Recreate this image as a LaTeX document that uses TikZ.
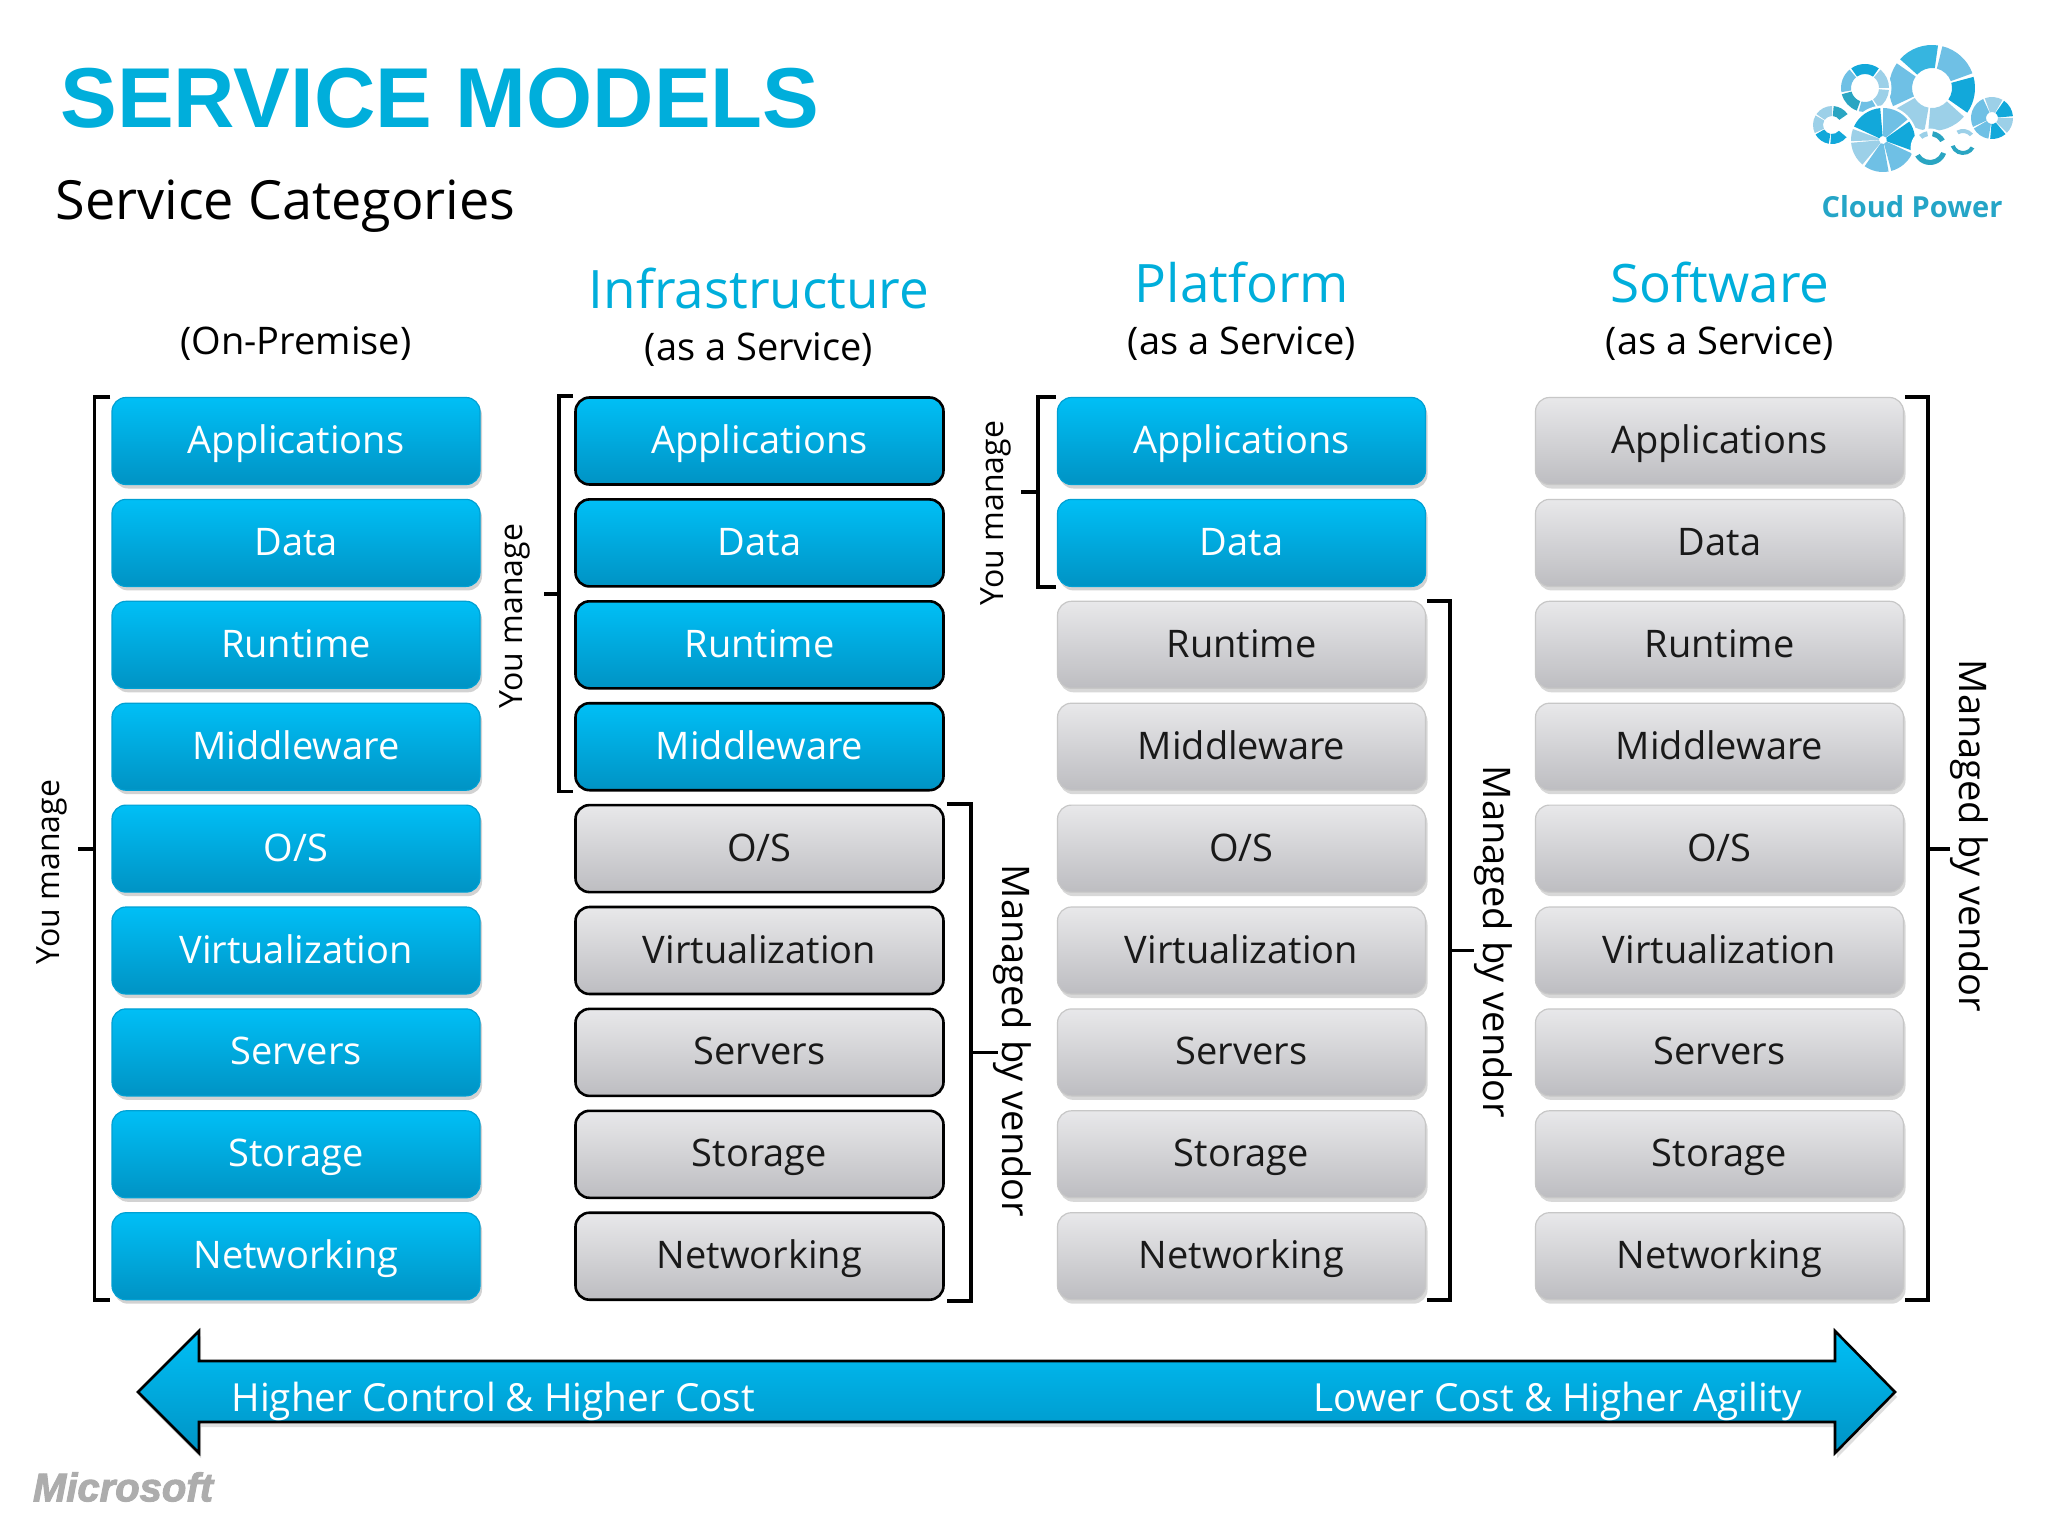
\documentclass[tikz,border=0pt]{standalone}
\usepackage{fontspec}
\setmainfont{Open Sans}
\newfontfamily\headfont{Liberation Sans}
\newfontfamily\msfont[BoldItalicFeatures={FakeBold=2.5}]{Liberation Sans}
\usetikzlibrary{shadows,calc}
\definecolor{titleblue}{HTML}{00AEDB}
\definecolor{boxtop}{HTML}{00BFF6}
\definecolor{boxbot}{HTML}{0093C4}
\definecolor{greytop}{HTML}{E8E8EA}
\definecolor{greybot}{HTML}{BDBDC1}
\definecolor{cloudA}{HTML}{12A8DA}
\definecolor{cloudB}{HTML}{6FC0E5}
\definecolor{cloudC}{HTML}{9CD0E8}
\definecolor{cloudD}{HTML}{2AA5C2}
\newcommand{\cloudring}[5]{%
  \fill[white] (#1,#2) circle[radius=#3+2.5];
  \foreach \a/\b/\c in {#5}{
    \fill[\c] ([shift={(\a:#3)}]#1,#2) arc[start angle=\a,end angle=\b,radius=#3]
      -- ([shift={(\b:#4)}]#1,#2) arc[start angle=\b,end angle=\a,radius=#4] -- cycle;
  }
}
\begin{document}
\begin{tikzpicture}[x=1pt,y=1pt,
  bluebox/.style={boxbase, top color=boxtop, bottom color=boxbot, text=white,
     draw=boxbot!70!boxtop, drop shadow={shadow xshift=2pt,shadow yshift=-4pt,opacity=.35}},
  greybox/.style={boxbase, top color=greytop, bottom color=greybot, text=black!90,
     draw=black!22, drop shadow={shadow xshift=2pt,shadow yshift=-4pt,opacity=.3}},
  blueedge/.style={boxbase, top color=boxtop, bottom color=boxbot, text=white,
     draw=black, line width=2.6pt},
  greyedge/.style={boxbase, top color=greytop, bottom color=greybot, text=black!90,
     draw=black, line width=2.6pt},
  boxbase/.style={shape=rectangle, rounded corners=14pt, minimum width=368pt,
     minimum height=87pt, inner sep=0pt, line width=1.2pt, text height=32pt, text depth=7pt,
     font=\fontsize{38}{42}\selectfont},
  bracket/.style={line width=3.8pt, draw=black},
  head/.style={text=titleblue, font=\fontsize{53}{60}\selectfont},
  sub/.style={font=\fontsize{38}{42}\selectfont},
  side/.style={rotate=90, font=\fontsize{32}{38}\selectfont},
  vendor/.style={rotate=-90, font=\fontsize{38}{42}\selectfont}]
\useasboundingbox (0,-1536) rectangle (2048,0);
\fill[white] (0,-1536) rectangle (2048,0);

% titles
\node[anchor=west, text=titleblue, font=\headfont\bfseries\fontsize{85}{90}\selectfont]
  (title) at (57,-98) {SERVICE MODELS};
\node[anchor=west, font=\fontsize{54}{60}\selectfont] (cats) at (52,-206) {Service Categories};
\node[sub] (onprem) at (296,-344) {(On-Premise)};
\node[head] (iaas) at (759,-288) {Infrastructure};
\node[sub] (iaassub) at (759,-350) {(as a Service)};
\node[head] (paas) at (1242,-282) {Platform};
\node[sub] (paassub) at (1242,-344) {(as a Service)};
\node[head] (saas) at (1720,-282) {Software};
\node[sub] (saassub) at (1720,-344) {(as a Service)};

% the stacks
\foreach \col/\x/\nblue/\blues/\greys in {op/296/9/bluebox/greybox, ia/759.5/4/blueedge/greyedge,
    pa/1241.5/2/bluebox/greybox, sa/1719.5/0/bluebox/greybox}{
  \foreach \lab [count=\i] in {Applications,Data,Runtime,Middleware,O/S,Virtualization,Servers,Storage,Networking}{
    \ifnum\i>\nblue \edef\kind{\greys}\else \edef\kind{\blues}\fi
    \node[\kind] (\col\i) at (\x,{-441-101.9*(\i-1)}) {\lab};
  }
}

% you manage
\draw[bracket] ([xshift=-1pt]op1.north west) -- ++(-16,0) coordinate (opc) |- ([xshift=-1pt]op9.south west);
\draw[bracket] ($(opc)!.5!(opc|-op9.south)$) coordinate (opm) -- ++(-16,0);
\node[side] (opyou) at (52,-872) {You manage};
\draw[bracket] ([xshift=-1pt]ia1.north west) -- ++(-14,0) coordinate (iac) |- ([xshift=-1pt]ia4.south west);
\draw[bracket] ($(iac)!.5!(iac|-ia4.south)$) -- ++(-15,0);
\node[side] (iayou) at (515,-616) {You manage};
\draw[bracket] ([xshift=-1pt]pa1.north west) -- ++(-18,0) coordinate (pac) |- ([xshift=-1pt]pa2.south west);
\draw[bracket] ($(pac)!.5!(pac|-pa2.south)$) -- ++(-17,0);
\node[side] (payou) at (996,-513) {You manage};

% managed by vendor
\draw[bracket] ([xshift=2pt]ia5.north east) -- ++(24,0) coordinate (ic) |- ([xshift=2pt]ia9.south east);
\draw[bracket] ($(ic)!.5!(ic|-ia9.south)$) -- ++(27,0);
\node[vendor] (iaven) at (1012,-1041) {Managed by vendor};
\draw[bracket] ([xshift=1pt]pa3.north east) -- ++(23,0) coordinate (pc) |- ([xshift=1pt]pa9.south east);
\draw[bracket] ($(pc)!.5!(pc|-pa9.south)$) -- ++(24,0);
\node[vendor] (paven) at (1493,-942) {Managed by vendor};
\draw[bracket] ([xshift=1pt]sa1.north east) -- ++(23,0) coordinate (sc) |- ([xshift=1pt]sa9.south east);
\draw[bracket] ($(sc)!.5!(sc|-sa9.south)$) -- ++(22,0);
\node[vendor] (saven) at (1969,-836) {Managed by vendor};

% big arrow
\draw[line width=2.6pt, draw=black, line join=miter, top color=boxtop, bottom color=boxbot,
    drop shadow={shadow xshift=2pt,shadow yshift=-5pt,opacity=.25}]
  (138,-1392) -- (199,-1331) -- (199,-1361) -- (1835,-1361) -- (1835,-1331) -- (1895,-1392)
  -- (1835,-1453) -- (1835,-1422) -- (199,-1422) -- (199,-1453) -- cycle;
\node[anchor=west, text=white, sub, font=\fontsize{38.7}{42}\selectfont] (lefttxt) at (228,-1401) {Higher Control \& Higher Cost};
\node[anchor=east, text=white, sub, font=\fontsize{38.7}{42}\selectfont] (righttxt) at (1805,-1401) {Lower Cost \& Higher Agility};

% logos
\node[text=black!32, font=\msfont\bfseries\itshape\fontsize{40}{42}\selectfont] (ms) at (123,-1487) {Microsoft};
\cloudring{1932}{-88}{43}{20}{82/138/cloudA!85!white,20/76/cloudB,-35/15/cloudA,-95/-42/cloudC,-150/-100/cloudC,145/205/cloudB}
\cloudring{1865}{-88}{24}{14}{55/125/cloudA,0/50/cloudC,130/190/cloudB,195/250/cloudD,255/300/cloudB,305/355/cloudC}
\cloudring{1992}{-118}{21}{6}{60/110/cloudC,5/55/cloudA,-45/0/cloudC,-95/-50/cloudA,-150/-100/cloudB,115/205/cloudB}
\cloudring{1832}{-125}{19}{9}{35/85/cloudD,90/145/cloudC,150/205/cloudC,210/260/cloudA,265/320/cloudA}
\cloudring{1883}{-140}{32}{4}{95/155/cloudA,40/90/cloudB,-20/35/cloudA,-75/-25/cloudB,-125/-80/cloudB,-175/-130/cloudC,160/182/cloudC}
\cloudring{1930}{-148}{17}{12}{-150/-20/cloudD,30/80/cloudD,100/130/cloudC}
\cloudring{1963}{-142}{13}{9}{-160/-30/cloudD,40/120/cloudC}
\node[text=cloudD!80!cloudA, font=\bfseries\fontsize{29}{32}\selectfont] (power) at (1912,-207) {Cloud Power};
\end{tikzpicture}
\end{document}
